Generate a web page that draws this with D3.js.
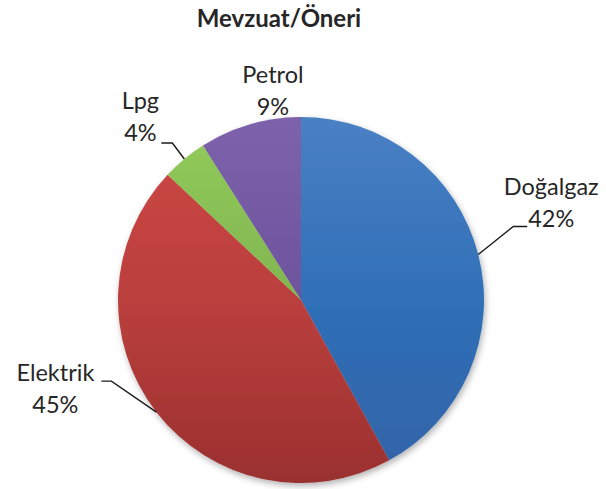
<!DOCTYPE html>
<html><head><meta charset="utf-8">
<script src="https://cdn.jsdelivr.net/npm/d3@7"></script>
<style>html,body{margin:0;padding:0;background:#fff;}</style>
</head><body>
<svg id="chart" width="606" height="489"></svg>
<script>
const title = "Mevzuat/Öneri";
const categories = ["Doğalgaz", "Elektrik", "Lpg", "Petrol"];
const values = [42, 45, 4, 9];
const percentLabels = ["42%", "45%", "4%", "9%"];
const topColors = ["#4a80c4", "#cf4845", "#92cc5c", "#7d62ab"];
const midColors = ["#2e6eb6", "#b83e3c", "#80b24e", "#6c519c"];
const bottomColors = ["#3363a6", "#9a3030", "#6e9a42", "#5e4488"];

const W = 606, H = 489;
const cx = 301, cy = 300, R = 183;
const font = "Lato, 'Open Sans', sans-serif";
const textColor = "#262626";

// label layout: offsets of text (center, first baseline) and leader elbow/end relative to arc edge point
const labelLayout = [
  { tx: 73, ty: -60, elbow: [35, -28], end: [49, -28], leader: true },
  { tx: -101, ty: -31, elbow: [-45, -31], end: [-55, -31], leader: true },
  { tx: -44, ty: -50, elbow: [-12, -16], end: [-23, -16], leader: true },
  { tx: 23, ty: -41, leader: false }
];

const svg = d3.select("#chart");
const defs = svg.append("defs");

const filt = defs.append("filter").attr("id", "shadow")
  .attr("x", "-10%").attr("y", "-10%").attr("width", "125%").attr("height", "125%");
filt.append("feDropShadow").attr("dx", 1.5).attr("dy", 3).attr("stdDeviation", 3)
  .attr("flood-color", "#000").attr("flood-opacity", 0.3);

categories.forEach((c, i) => {
  const g = defs.append("linearGradient").attr("id", "grad" + i)
    .attr("gradientUnits", "userSpaceOnUse")
    .attr("x1", 0).attr("x2", 0).attr("y1", -R).attr("y2", R);
  g.append("stop").attr("offset", "0%").attr("stop-color", topColors[i]);
  g.append("stop").attr("offset", "55%").attr("stop-color", midColors[i]);
  g.append("stop").attr("offset", "100%").attr("stop-color", bottomColors[i]);
});

svg.append("text").attr("x", 279).attr("y", 27).attr("text-anchor", "middle")
  .attr("font-family", font).attr("font-weight", "bold").attr("font-size", 24)
  .attr("fill", textColor).text(title);

const pie = d3.pie().sort(null).value(d => d)(values);
const arc = d3.arc().innerRadius(0).outerRadius(R);

const g = svg.append("g").attr("transform", `translate(${cx},${cy})`);
const slices = g.append("g").attr("filter", "url(#shadow)");
slices.selectAll("path").data(pie).enter().append("path")
  .attr("d", arc)
  .attr("fill", (d, i) => `url(#grad${i})`);

pie.forEach((d, i) => {
  const mid = (d.startAngle + d.endAngle) / 2;
  const px = R * Math.sin(mid), py = -R * Math.cos(mid);
  const L = labelLayout[i];
  if (L.leader) {
    const pts = [[px, py], [px + L.elbow[0], py + L.elbow[1]], [px + L.end[0], py + L.end[1]]];
    g.append("path").attr("d", d3.line()(pts)).attr("fill", "none")
      .attr("stroke", "#1a1a1a").attr("stroke-width", 1.4);
  }
  const t = g.append("text").attr("text-anchor", "middle")
    .attr("font-family", font).attr("font-size", 23.5).attr("fill", textColor);
  t.append("tspan").attr("x", px + L.tx).attr("y", py + L.ty).text(categories[i]);
  t.append("tspan").attr("x", px + L.tx).attr("y", py + L.ty + 32).text(percentLabels[i]);
});
</script>
</body></html>
